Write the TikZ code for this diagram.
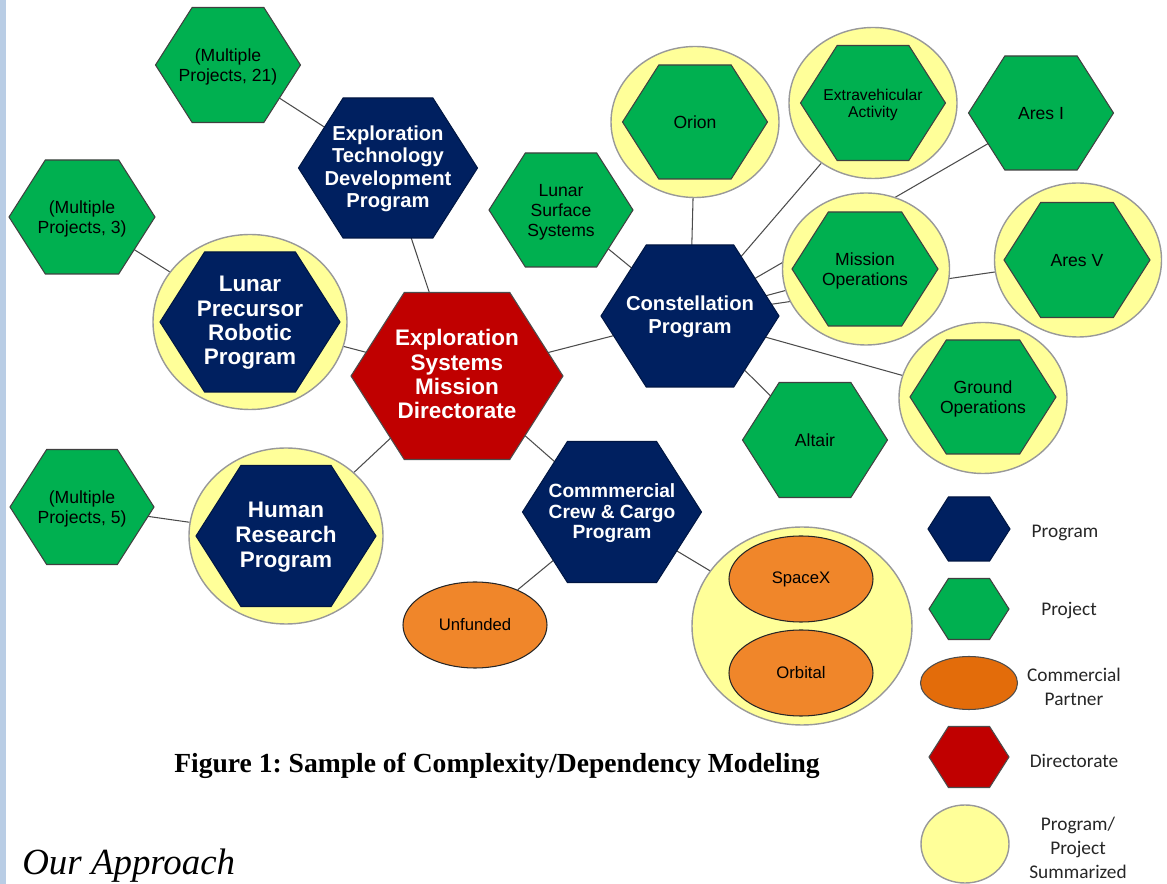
\documentclass[tikz,border=0pt]{standalone}
\usepackage{fontspec}
\setmainfont{Liberation Sans}
\newfontfamily\legfont{Carlito}
\newfontfamily\capfont{Liberation Serif}
\usepackage{xcolor}
\usetikzlibrary{shapes.symbols,shapes.geometric}
\definecolor{prognavy}{RGB}{0,32,96}
\definecolor{projgreen}{RGB}{0,176,80}
\definecolor{dirred}{RGB}{192,0,0}
\definecolor{sumyellow}{RGB}{255,255,153}
\definecolor{partorange}{RGB}{240,134,42}
\definecolor{legorange}{RGB}{227,108,10}
\definecolor{barblue}{RGB}{185,205,229}
\pgfdeclarelayer{back}
\pgfsetlayers{back,main}
\newcommand{\hx}[1]{\smash{\makebox[0pt]{\raisebox{-3.8pt}{\begin{tabular}{@{}c@{}}#1\end{tabular}}}}}

\begin{document}
\begin{tikzpicture}[x=0.02cm,y=-0.02cm,
  hexa/.style={shape=signal,signal to=east and west,signal pointer angle=115,inner sep=0pt,outer sep=0pt,line width=0.6pt},
  prog/.style 2 args={hexa,fill=prognavy,draw=prognavy!70!black,text=white,minimum width=#1*0.02cm,minimum height=#2*0.02cm},
  proj/.style 2 args={hexa,fill=projgreen,draw=black!75,minimum width=#1*0.02cm,minimum height=#2*0.02cm,font=\fontsize{10}{11.3}\selectfont},
  dirc/.style 2 args={hexa,fill=dirred,draw=black!70,text=white,minimum width=#1*0.02cm,minimum height=#2*0.02cm},
  summ/.style 2 args={ellipse,fill=sumyellow,draw=black!40,line width=0.8pt,inner sep=0pt,minimum width=#1*0.02cm,minimum height=#2*0.02cm},
  partner/.style={ellipse,fill=partorange,draw=black!85,line width=0.6pt,inner sep=0pt,minimum width=144*0.02cm,minimum height=86*0.02cm,font=\fontsize{9.5}{11}\selectfont},
  link/.style={draw=black!70,line width=0.6pt},
  legtext/.style={font=\legfont\fontsize{11}{13.6}\selectfont,text=black!85,align=center,inner sep=0pt}]
\useasboundingbox (0,0) rectangle (1167,884);
\fill[barblue] (0,0) rectangle (6,884);

%directorate
\node[dirc={212}{167},font=\bfseries\fontsize{12.8}{13.9}\selectfont] (esmd) at (457,376) {\hx{Exploration\\Systems\\Mission\\Directorate}};

%programs
\node[prog={179}{140},font=\bfseries\fontsize{11.5}{12.75}\selectfont] (etdp) at (388,168) {\hx{Exploration\\Technology\\Development\\Program}};
\node[summ={194}{175}] (lprsum) at (250,322) {};
\node[prog={180}{140},font=\bfseries\fontsize{12.8}{13.9}\selectfont] (lpr) at (250,322) {\hx{Lunar\\Precursor\\Robotic\\Program}};
\node[summ={194}{176}] (hrsum) at (286,536) {};
\node[prog={180}{141},font=\bfseries\fontsize{12.8}{14.2}\selectfont] (hr) at (286,536) {\hx{Human\\Research\\Program}};
\node[prog={178}{142},font=\bfseries\fontsize{11.5}{13}\selectfont] (cxp) at (690,316) {\hx{Constellation\\Program}};
\node[prog={179}{141},font=\bfseries\fontsize{10.9}{11.9}\selectfont] (ccc) at (612,512) {\hx{Commmercial\\Crew \& Cargo\\Program}};

%projects
\node[proj={145}{115}] (mp21) at (228,65) {\hx{(Multiple\\Projects, 21)}};
\node[proj={146}{114}] (mp3) at (82,217) {\hx{(Multiple\\Projects, 3)}};
\node[proj={144}{115}] (mp5) at (82,507) {\hx{(Multiple\\Projects, 5)}};
\node[proj={144}{114}] (lss) at (561,210) {\hx{Lunar\\Surface\\Systems}};
\node[summ={168}{151}] (orionsum) at (695,122) {};
\node[proj={145}{114}] (orion) at (695,122) {\hx{Orion}};
\node[summ={168}{151}] (evasum) at (873,103) {};
\node[proj={145}{115},font=\fontsize{8.9}{9.6}\selectfont] (eva) at (873,103) {\hx{Extravehicular\\Activity}};
\node[proj={145}{114}] (aresi) at (1041,113) {\hx{Ares I}};
\node[summ={167}{152}] (mopssum) at (866,269) {};
\node[proj={146}{114}] (mops) at (865,269) {\hx{Mission\\Operations}};
\node[summ={167}{154}] (aresvsum) at (1078,260) {};
\node[proj={146}{115}] (aresv) at (1077,260) {\hx{Ares V}};
\node[summ={168}{151}] (gopssum) at (983,398) {};
\node[proj={146}{114}] (gops) at (983,397) {\hx{Ground\\Operations}};
\node[proj={145}{115}] (altair) at (815,440) {\hx{Altair}};

%commercial partners
\node[partner] (unfunded) at (475,625) {Unfunded};
\node[summ={220}{198}] (ccdevsum) at (802,626) {};
\node[partner] (spacex) at (801,579) {SpaceX};
\node[partner] (orbital) at (801,673) {Orbital};

%links
\begin{pgfonlayer}{back}
\draw[link] (mp21) -- (etdp);
\draw[link] (etdp) -- (esmd);
\draw[link] (mp3) -- (lprsum);
\draw[link] (lprsum) -- (esmd);
\draw[link] (mp5) -- (hrsum);
\draw[link] (hrsum) -- (esmd);
\draw[link] (esmd) -- (cxp);
\draw[link] (esmd) -- (ccc);
\draw[link] (lss) -- (cxp);
\draw[link] (cxp) -- (orionsum);
\draw[link] (cxp) -- (evasum);
\draw[link] (cxp) -- (aresi);
\draw[link] (cxp) -- (mopssum);
\draw[link] (cxp) -- (aresvsum);
\draw[link] (cxp) -- (gopssum);
\draw[link] (cxp) -- (altair);
\draw[link] (ccc) -- (unfunded);
\draw[link] (ccc) -- (ccdevsum);
\end{pgfonlayer}

%legend
\node[prog={82}{64}] (lgprog) at (969,529) {};
\node[legtext] (lgprogtxt) at (1065,533) {Program};
\node[proj={80}{61}] (lgproj) at (969,609) {};
\node[legtext] (lgprojtxt) at (1069,611) {Project};
\node[ellipse,fill=legorange,draw=black!70,line width=0.6pt,inner sep=0pt,minimum width=97*0.02cm,minimum height=53*0.02cm] (lgpart) at (969,683) {};
\node[legtext] (lgparttxt) at (1074,687) {Commercial\\Partner};
\node[dirc={80}{61}] (lgdir) at (969,757) {};
\node[legtext] (lgdirtxt) at (1074,761) {Directorate};
\node[summ={88}{78}] (lgsum) at (965,844) {};
\node[legtext] (lgsumtxt) at (1078,848) {Program/\\Project\\Summarized};

%caption
\node[font=\capfont\bfseries\fontsize{15.7}{18}\selectfont] (caption) at (497,766) {Figure 1:\ Sample of Complexity/Dependency Modeling};
\node[anchor=base west,inner sep=0pt,font=\capfont\itshape\fontsize{21}{24}\selectfont] (approach) at (22,875) {Our Approach};
\end{tikzpicture}
\end{document}
